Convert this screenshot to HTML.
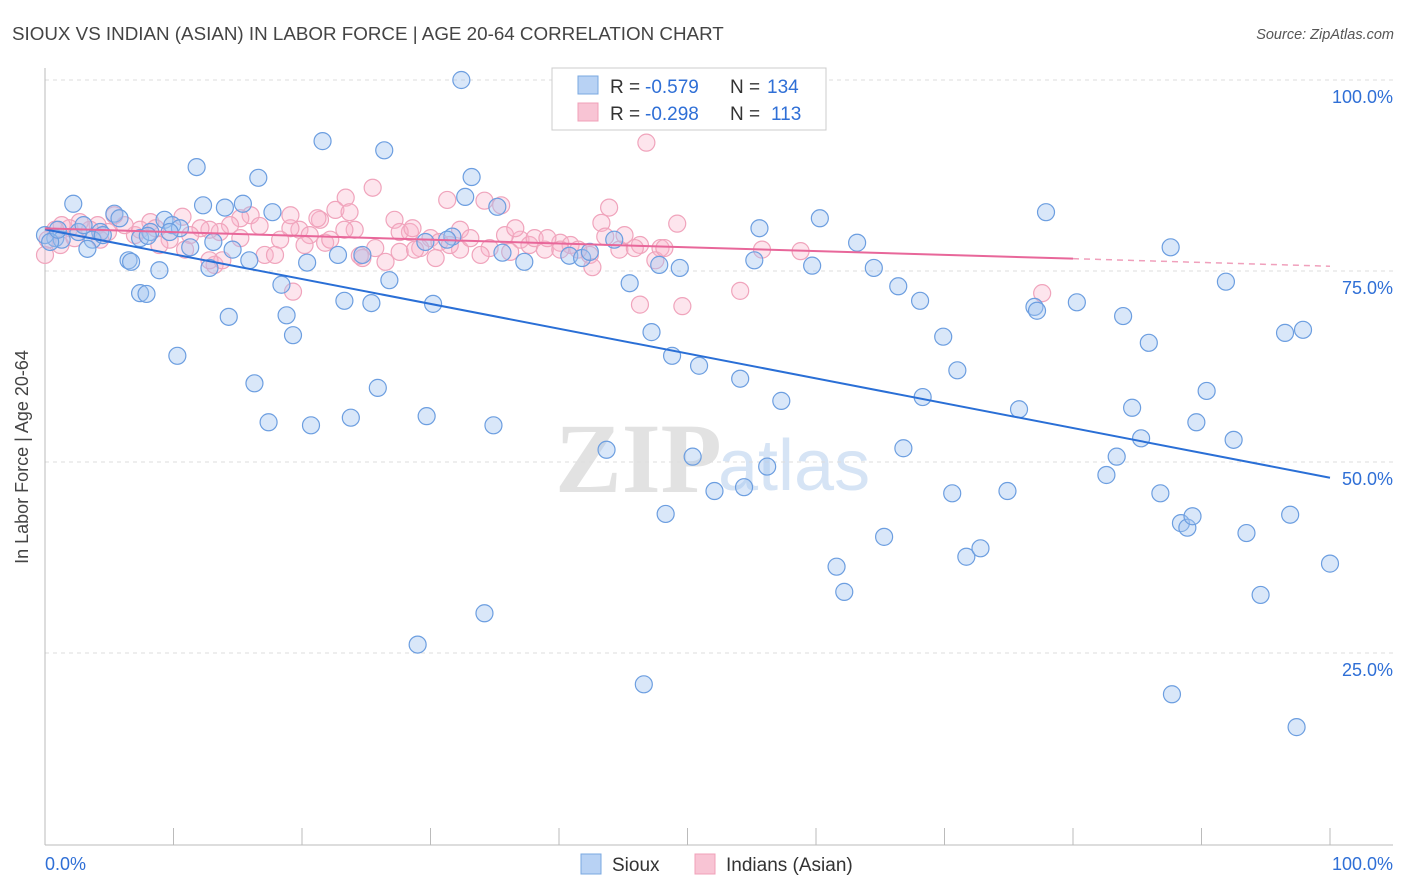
<!DOCTYPE html>
<html><head><meta charset="utf-8"><style>
body{margin:0;background:#fff;font-family:"Liberation Sans",sans-serif;}
#wrap{position:relative;width:1406px;height:892px;overflow:hidden;}
</style></head><body>
<div id="wrap">
<svg id="svg" width="1406" height="892" xmlns="http://www.w3.org/2000/svg">
<text x="12" y="40" font-size="18.8" fill="#444">SIOUX VS INDIAN (ASIAN) IN LABOR FORCE | AGE 20-64 CORRELATION CHART</text>
<text x="1394" y="39" font-size="14.5" fill="#555" font-style="italic" text-anchor="end">Source: ZipAtlas.com</text>
<text x="555" y="492" font-size="100" font-weight="bold" fill="#e2e2e2" font-family="Liberation Serif,serif">ZIP</text>
<text x="718" y="490" font-size="72" fill="#d6e4f5">atlas</text>
<g id="grid"></g>
<g id="axes"></g>
<g id="pink"></g>
<g id="blue"></g>
<g id="trends"></g>
<text x="28" y="457" font-size="18" fill="#444" text-anchor="middle" transform="rotate(-90 28 457)">In Labor Force | Age 20-64</text>
<g>
<rect x="552" y="68" width="274" height="62" fill="#fff" stroke="#ccc"/>
<rect x="578" y="76" width="20" height="18" fill="#b8d2f4" stroke="#7aa8e0"/>
<rect x="578" y="103" width="20" height="18" fill="#f8c4d4" stroke="#f0a0b8"/>
<text x="610" y="93" font-size="19" fill="#333">R =</text>
<text x="645" y="93" font-size="19" fill="#2f6fd6">-0.579</text>
<text x="730" y="93" font-size="19" fill="#333">N =</text>
<text x="767" y="93" font-size="19" fill="#2f6fd6">134</text>
<text x="610" y="120" font-size="19" fill="#333">R =</text>
<text x="645" y="120" font-size="19" fill="#2f6fd6">-0.298</text>
<text x="730" y="120" font-size="19" fill="#333">N =</text>
<text x="771" y="120" font-size="19" fill="#2f6fd6">113</text>
</g>
<g>
<rect x="581" y="854" width="20" height="20" fill="#b8d2f4" stroke="#7aa8e0"/>
<text x="612" y="871" font-size="19" fill="#333">Sioux</text>
<rect x="695" y="854" width="20" height="20" fill="#f8c4d4" stroke="#f0a0b8"/>
<text x="726" y="871" font-size="19" fill="#333">Indians (Asian)</text>
</g>
</svg>
</div>
<script>
const yTicks=[100,75,50,25];
const yTickLabels=["100.0%","75.0%","50.0%","25.0%"];
const xTickVals=[0,10,20,30,40,50,60,70,80,90,100];
const xEndLabels=["0.0%","100.0%"];
const blueX=[32.4,21.6,26.4,11.8,16.6,33.2,32.7,2.2,12.3,15.4,14.0,35.2,5.4,5.8,9.3,17.7,9.9,10.5,4.3,0.8,1.3,3.7,13.1,11.3,3.3,14.6,6.5,6.7,8.9,12.8,15.9,20.4,22.8,24.7,29.6,31.7,31.3,35.6,37.3,40.8,41.8,42.4,44.3,47.8,49.4,55.6,55.2,60.3,59.7,63.2,64.5,77.9,87.6,7.4,7.9,18.4,26.8,23.3,25.4,30.2,45.5,14.3,18.8,19.3,10.3,47.2,48.8,50.9,54.1,57.3,66.4,68.1,69.9,71.0,68.3,77.0,77.2,80.3,83.9,85.9,91.9,96.5,97.9,16.3,25.9,17.4,20.7,23.8,29.7,34.9,43.7,50.4,52.1,54.4,56.2,66.8,75.8,84.6,85.3,83.4,82.6,89.6,90.4,92.5,48.3,70.6,74.9,86.8,65.3,61.6,62.2,71.7,72.8,88.4,88.9,89.3,93.5,96.9,94.6,100.0,34.2,29.0,46.6,87.7,97.4,0,0.4,1.0,2.6,3.0,4.5,7.4,8.2,9.7,8.0];
const blueY=[100.0,92.0,90.8,88.6,87.2,87.3,84.7,83.8,83.6,83.8,83.3,83.4,82.5,81.9,81.7,82.7,81.0,80.6,80.1,79.3,79.1,79.1,78.8,78.1,77.9,77.8,76.4,76.2,75.1,75.4,76.4,76.1,77.1,77.1,78.8,79.5,79.1,77.4,76.2,77.0,76.7,77.5,79.1,75.8,75.4,80.6,76.4,81.9,75.7,78.7,75.4,82.7,78.1,72.1,72.0,73.2,73.8,71.1,70.8,70.7,73.4,69.0,69.2,66.6,63.9,67.0,63.9,62.6,60.9,58.0,73.0,71.1,66.4,62.0,58.5,70.3,69.8,70.9,69.1,65.6,73.6,66.9,67.3,60.3,59.7,55.2,54.8,55.8,56.0,54.8,51.6,50.7,46.2,46.7,49.4,51.8,56.9,57.1,53.1,50.7,48.3,55.2,59.3,52.9,43.2,45.9,46.2,45.9,40.2,36.3,33.0,37.6,38.7,42.0,41.4,42.9,40.7,43.1,32.6,36.7,30.2,26.1,20.9,19.6,15.3,79.7,78.8,80.4,80.1,81.0,79.7,79.3,80.1,80.1,79.6];
const pinkX=[46.8,25.5,23.4,31.3,34.2,35.5,43.9,49.2,43.3,54.1,19.3,46.3,49.6,77.6,55.8,58.8,46.3,47.9,19.8,21.4,22.6,23.7,27.2,28.4,30.0,32.3,34.6,37.0,37.7,38.9,40.1,40.9,42.4,42.6,40.1,33.9,36.2,32.3,30.7,29.2,27.6,26.5,24.7,25.7,24.1,21.8,20.6,19.1,18.3,17.1,16.0,15.2,14.4,13.6,12.8,12.1,11.3,10.7,9.7,8.9,8.2,7.0,6.2,5.4,4.9,4.1,3.5,2.7,1.9,1.3,0.8,0.2,0,1.2,2.3,4.3,7.4,8.6,10.9,13.2,13.8,15.2,16.7,17.9,19.1,20.2,22.2,23.3,24.5,27.6,28.8,30.4,31.5,33.1,35.8,36.6,38.1,39.1,41.5,43.6,44.7,45.1,45.9,47.5,48.2,21.2,28.6,12.8];
const pinkY=[91.8,85.9,84.6,84.3,84.2,83.6,83.3,81.2,81.3,72.4,72.3,70.6,70.4,72.1,77.8,77.6,78.4,78.0,80.4,81.7,83.0,82.7,81.7,80.1,79.3,77.8,78.0,79.1,78.4,77.8,78.7,78.4,77.1,75.5,77.8,77.1,77.5,80.4,78.8,78.0,77.5,76.2,76.7,78.0,80.4,78.7,79.7,80.6,79.1,77.1,82.3,81.9,81.0,80.1,80.4,80.6,79.7,82.1,79.1,78.4,81.4,79.7,81.0,82.3,80.1,81.0,80.4,81.4,80.6,81.0,80.4,79.1,77.1,78.4,79.3,79.1,80.4,80.6,77.8,75.8,76.4,79.3,80.9,77.1,82.3,78.4,79.1,80.4,77.0,80.1,77.8,76.7,78.4,79.3,79.7,80.6,79.3,79.3,77.8,79.5,77.8,79.7,78.0,76.4,78.0,81.9,80.6,76.4];
const X=v=>45+v*12.85;
const Y=v=>844-v*7.64;
const NS="http://www.w3.org/2000/svg";
function mk(tag,attrs,parent){const e=document.createElementNS(NS,tag);for(const k in attrs)e.setAttribute(k,attrs[k]);parent.appendChild(e);return e;}
const grid=document.getElementById('grid'),axes=document.getElementById('axes');
yTicks.forEach((t,i)=>{
  const l=mk('line',{x1:45,x2:1393,y1:Y(t),y2:Y(t),stroke:'#ddd','stroke-dasharray':'4,4'},grid);
  
  
  const tx=mk('text',{x:1393,y:Y(t)+23,'font-size':18,fill:'#2f6fd6','text-anchor':'end'},axes);
  tx.textContent=yTickLabels[i];
  
  
});
const ax=mk('line',{x1:45,x2:1393,y1:845,y2:845,stroke:'#bbb'},axes);


const ay=mk('line',{x1:45,x2:45,y1:68,y2:845,stroke:'#bbb'},axes);


xTickVals.forEach(t=>{
  const l=mk('line',{x1:X(t),x2:X(t),y1:828,y2:845,stroke:'#bbb'},axes);
  
  
});
[[0,'start',45],[1,'end',1393]].forEach(([i,a,x])=>{
  const t=mk('text',{x:x,y:870,'font-size':18,fill:'#2f6fd6','text-anchor':a},axes);
  t.textContent=xEndLabels[i];
  
  
});
function dots(xs,ys,g,fill,stroke,name){
  xs.forEach((x,i)=>{
    const c=mk('circle',{cx:X(x),cy:Y(ys[i]),r:8.5,fill:fill,stroke:stroke,'stroke-width':1.2},g);
    
    
  });
}
dots(pinkX,pinkY,document.getElementById('pink'),'rgba(248,180,202,0.35)','#f0a4bc','indian-point');
dots(blueX,blueY,document.getElementById('blue'),'rgba(160,196,240,0.4)','#6c9ee0','sioux-point');
function reg(xs,ys){const n=xs.length;let sx=0,sy=0,sxx=0,sxy=0;for(let i=0;i<n;i++){sx+=xs[i];sy+=ys[i];sxx+=xs[i]*xs[i];sxy+=xs[i]*ys[i];}const b=(n*sxy-sx*sy)/(n*sxx-sx*sx);return [ (sy-b*sx)/n, b];}
const tg=document.getElementById('trends');
const [ba,bb]=reg(blueX,blueY);
const bl=mk('line',{x1:X(0),y1:Y(ba),x2:X(100),y2:Y(ba+bb*100),stroke:'#2a6fd6','stroke-width':2},tg);


const [pa,pb]=reg(pinkX,pinkY);
const pl=mk('line',{x1:X(0),y1:Y(pa),x2:X(80),y2:Y(pa+pb*80),stroke:'#e8679a','stroke-width':2},tg);


const pd=mk('line',{x1:X(80),y1:Y(pa+pb*80),x2:X(100),y2:Y(pa+pb*100),stroke:'#f0a0bc','stroke-width':1.5,'stroke-dasharray':'6,5'},tg);


</script>
</body></html>
